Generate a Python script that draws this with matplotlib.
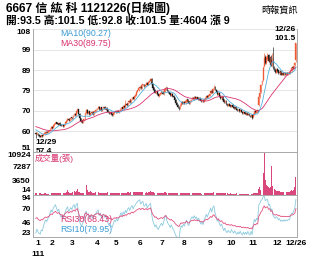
import numpy as np
import pandas as pd
import matplotlib
matplotlib.use("Agg")
import matplotlib.pyplot as plt

plt.rcParams['font.family'] = ['Liberation Sans', 'Noto Sans CJK TC', 'DejaVu Sans']

# ---------------- data ----------------
prior_closes = [64.0, 64.5, 63.8, 63.2, 63.9, 64.6, 65.0, 64.2, 63.5, 63.0,
                63.6, 64.1, 63.4, 62.8, 62.2, 62.9, 63.5, 62.8, 62.0, 61.5,
                62.2, 62.8, 62.4, 61.8, 61.2, 61.6, 60.8, 60.4, 61.0, 60.5]

closes = [59.0, 59.6,
          58.8, 58.2, 57.9, 58.5, 58.3, 59.0, 59.6, 60.1, 59.8, 60.3, 60.6, 61.5, 62.3,
          62.0, 63.2, 63.8, 64.5, 64.0, 63.6, 64.2, 63.5, 63.0, 63.4, 62.8, 63.5, 64.6, 65.4, 66.2, 65.5, 66.0, 66.8,
          66.5, 67.8, 68.5, 67.9, 69.8, 70.5, 68.6, 66.4, 65.2, 64.6, 65.5, 66.0, 68.9, 70.2, 69.0, 69.6, 68.3, 68.8, 69.5, 68.5, 69.2, 70.0, 70.4,
          71.2, 71.8, 70.6, 71.5, 70.2, 71.0, 71.6, 70.9, 71.3, 70.4, 69.5, 68.7, 69.2, 68.4, 68.0, 68.9, 69.6,
          69.3, 70.0, 69.5, 70.1, 70.8, 71.6, 71.0, 72.2, 71.8, 73.0, 72.6, 73.8, 74.5, 74.0, 75.4, 76.2, 75.6, 76.8, 77.5, 78.8, 79.6, 80.4,
          81.2, 80.5, 81.8, 82.3, 81.5, 82.0, 83.0, 82.2, 83.4, 84.0, 84.8, 82.6, 80.8, 79.6, 78.4, 79.0, 77.8, 77.0, 77.6, 78.2,
          78.6, 77.9, 78.8, 80.2, 80.8, 79.4, 78.5, 78.0, 77.2, 77.8, 76.8, 76.2, 75.0, 73.5, 72.6, 71.8, 71.0, 72.8, 74.0, 73.4, 74.2,
          73.6, 74.5, 75.2, 74.0, 73.5, 74.6, 75.4, 76.0, 75.6, 76.4, 75.8, 76.2, 75.5, 76.0, 75.2, 74.6, 75.0, 74.4, 75.3, 76.0, 76.8, 76.3, 77.2,
          78.0, 79.2, 78.5, 80.3, 81.2, 79.8, 78.9, 77.6, 78.2, 76.8, 76.0, 76.5, 75.2, 74.0, 74.6, 73.2, 72.5, 73.0, 72.4, 72.0,
          72.6, 71.8, 71.2, 71.6, 70.8, 70.2, 70.6, 69.9, 70.3, 69.5, 69.0, 69.4, 68.6, 68.9, 68.2, 68.6, 67.8, 67.4, 67.9, 66.8,
          68.6, 69.8, 69.2, 70.1, 69.7, 76.6, 78.5, 82.0, 83.8, 90.0, 94.5, 92.5, 94.5, 95.5, 93.0, 94.5, 91.5, 93.5, 90.0, 88.8, 88.0, 89.2,
          88.6, 87.5, 88.2, 86.9, 87.4, 86.8, 87.6, 87.0, 87.5, 87.2, 87.6, 87.5, 88.6, 89.9, 89.8, 91.0, 92.5, 101.5]

opens = [59.8, 59.2,
         59.3, 58.9, 58.4, 57.9, 58.6, 58.4, 59.1, 59.5, 60.2, 59.9, 60.2, 60.7, 61.6,
         62.6, 62.1, 63.3, 63.9, 64.6, 64.1, 63.5, 64.3, 63.6, 63.0, 63.5, 62.9, 63.6, 64.5, 65.3, 66.3, 65.4, 66.1,
         67.0, 66.6, 67.9, 68.6, 67.8, 69.7, 70.8, 68.5, 66.5, 65.3, 64.5, 65.6, 66.1, 69.0, 70.3, 68.9, 69.7, 68.2, 68.9, 69.6, 68.4, 69.3, 69.9,
         70.5, 71.3, 71.9, 70.5, 71.6, 70.1, 71.1, 71.7, 70.8, 71.4, 70.3, 69.6, 68.6, 69.3, 68.5, 67.9, 68.8,
         69.8, 69.2, 70.1, 69.4, 70.2, 70.7, 71.7, 70.9, 72.3, 71.7, 73.1, 72.5, 73.9, 74.6, 73.9, 75.3, 76.3, 75.5, 76.9, 77.4, 78.9, 79.5,
         80.5, 81.3, 80.4, 81.9, 82.4, 81.4, 82.1, 83.1, 82.1, 83.5, 83.9, 84.9, 82.5, 80.9, 79.7, 78.3, 79.1, 77.9, 76.9, 77.7,
         78.1, 78.7, 77.8, 78.9, 80.1, 80.9, 79.5, 78.6, 78.1, 77.1, 77.9, 76.9, 76.3, 75.1, 73.6, 72.7, 71.9, 70.9, 72.7, 74.1, 73.3,
         74.3, 73.5, 74.4, 75.3, 74.1, 73.4, 74.5, 75.3, 76.1, 75.5, 76.5, 75.7, 76.3, 75.4, 76.1, 75.3, 74.5, 75.1, 74.3, 75.2, 75.9, 76.9, 76.2,
         77.1, 78.1, 79.3, 78.4, 80.2, 81.3, 79.9, 79.0, 77.5, 78.3, 76.9, 75.9, 76.6, 75.3, 73.9, 74.7, 73.3, 72.4, 73.1, 72.5,
         71.9, 72.7, 71.9, 71.1, 71.7, 70.9, 70.1, 70.7, 69.8, 70.4, 69.6, 68.9, 69.5, 68.5, 69.0, 68.1, 68.7, 67.9, 67.3, 68.0,
         66.9, 68.5, 69.9, 69.1, 70.2, 72.5, 76.4, 78.6, 82.5, 84.5, 91.0, 95.0, 92.3, 94.2, 96.0, 92.8, 95.0, 91.0, 94.5, 90.2, 89.2, 87.8,
         89.5, 88.8, 87.4, 88.4, 86.8, 87.6, 86.7, 87.8, 86.9, 87.7, 87.0, 87.8, 87.4, 88.5, 90.2, 89.6, 91.2, 93.5]

highs = [60.2, 60.0,
         59.6, 59.2, 58.6, 58.8, 58.9, 59.3, 59.9, 60.4, 60.5, 60.6, 60.9, 61.8, 62.7,
         62.9, 63.5, 64.1, 64.8, 64.9, 64.4, 64.5, 64.6, 63.9, 63.7, 63.8, 63.8, 64.9, 65.7, 66.5, 66.6, 66.3, 67.1,
         67.3, 68.1, 68.8, 68.9, 70.1, 71.5, 71.0, 68.8, 66.8, 65.6, 65.8, 66.3, 69.2, 71.0, 70.6, 69.9, 70.0, 69.1, 69.8, 69.9, 69.5, 70.3, 70.7,
         71.5, 72.1, 72.2, 71.8, 71.9, 71.3, 71.9, 72.0, 71.6, 71.7, 70.6, 69.9, 69.5, 69.6, 68.8, 69.2, 69.9,
         70.1, 70.3, 70.4, 70.4, 71.1, 71.9, 71.9, 72.5, 72.6, 75.0, 73.4, 74.1, 74.8, 74.9, 75.7, 76.5, 76.6, 77.1, 77.8, 79.1, 79.9, 80.7,
         81.5, 81.6, 82.1, 82.6, 82.7, 82.3, 83.3, 83.4, 83.7, 84.3, 85.5, 85.2, 82.8, 81.2, 80.0, 79.3, 79.4, 78.2, 77.9, 78.5,
         78.9, 79.0, 79.1, 80.5, 81.5, 81.2, 79.8, 78.9, 78.4, 78.1, 78.2, 77.2, 76.6, 75.4, 73.9, 73.0, 72.2, 73.1, 74.3, 74.4, 74.5,
         74.6, 74.8, 75.5, 75.6, 74.4, 74.9, 75.7, 76.3, 76.4, 76.7, 76.8, 76.5, 76.6, 76.3, 76.4, 75.6, 75.3, 75.4, 75.6, 76.3, 77.1, 77.2, 77.5,
         78.3, 79.5, 79.6, 80.6, 82.0, 81.6, 80.2, 79.3, 78.5, 78.6, 77.2, 76.8, 76.9, 75.6, 74.9, 75.0, 73.6, 73.3, 73.4, 72.8,
         72.9, 73.0, 72.2, 71.9, 72.0, 71.2, 70.9, 71.0, 70.6, 70.7, 69.9, 69.7, 69.8, 69.2, 69.3, 68.9, 69.0, 68.2, 68.2, 68.3,
         68.9, 70.1, 70.2, 70.4, 70.5, 76.6, 79.2, 82.5, 84.5, 91.0, 96.8, 96.0, 95.5, 97.0, 96.5, 95.5, 96.0, 97.0, 99.7, 91.0, 89.8, 89.8,
         89.9, 89.2, 88.6, 88.7, 87.7, 88.0, 88.0, 88.2, 87.8, 88.0, 88.0, 88.2, 88.9, 90.2, 90.6, 91.3, 92.8, 101.5]

lows = [57.4, 58.8,
        58.4, 57.8, 57.6, 57.6, 57.9, 58.2, 58.8, 59.2, 59.5, 59.6, 59.9, 60.4, 61.3,
        61.7, 61.8, 63.0, 63.6, 63.7, 63.3, 63.2, 63.2, 62.7, 62.7, 62.5, 62.6, 63.3, 64.2, 65.0, 65.2, 65.1, 65.8,
        66.2, 66.3, 67.6, 67.6, 67.5, 69.4, 68.3, 66.1, 64.9, 64.3, 64.2, 65.3, 65.8, 68.7, 68.7, 68.6, 68.0, 68.0, 68.6, 68.2, 68.1, 69.0, 69.6,
        70.2, 71.0, 70.3, 70.2, 69.9, 69.8, 70.8, 70.6, 70.5, 70.1, 69.2, 68.4, 68.3, 68.1, 67.7, 67.6, 68.5,
        69.0, 68.9, 69.2, 69.1, 69.9, 70.4, 70.7, 70.6, 71.5, 71.4, 72.3, 72.2, 73.6, 73.7, 73.6, 75.0, 75.3, 75.2, 76.6, 77.1, 78.6, 79.2,
        80.2, 80.2, 80.1, 81.6, 81.2, 81.1, 81.8, 81.9, 81.8, 83.2, 83.6, 82.3, 80.5, 79.3, 78.1, 78.0, 77.5, 76.7, 76.6, 77.4,
        77.8, 77.6, 77.5, 78.6, 79.8, 79.1, 78.2, 77.7, 76.9, 76.8, 76.5, 75.9, 74.7, 73.2, 72.3, 71.5, 70.3, 70.6, 72.4, 73.0, 73.0,
        73.3, 73.2, 74.1, 73.7, 73.2, 73.1, 74.2, 75.0, 75.3, 75.2, 75.5, 75.4, 75.2, 75.1, 74.9, 74.3, 74.2, 74.1, 74.0, 74.9, 75.6, 76.0, 75.9,
        76.8, 77.8, 78.2, 78.1, 79.9, 79.5, 78.6, 77.3, 77.2, 76.5, 75.7, 75.6, 74.9, 73.7, 73.6, 72.9, 72.2, 72.1, 72.1, 71.7,
        71.6, 71.5, 70.9, 70.8, 70.5, 69.9, 69.8, 69.6, 69.5, 69.2, 68.7, 68.6, 68.3, 68.2, 67.9, 67.8, 67.5, 67.1, 67.0, 66.3,
        66.6, 68.2, 68.9, 68.8, 69.4, 72.2, 76.0, 78.3, 81.8, 83.8, 90.5, 92.0, 92.0, 93.9, 92.6, 92.5, 91.0, 90.7, 89.7, 88.5, 87.6, 87.5,
        88.3, 87.2, 87.1, 86.6, 86.5, 86.5, 86.4, 86.7, 86.6, 86.9, 86.7, 87.2, 87.1, 88.2, 89.5, 89.3, 90.9, 92.8]

volumes = [320, 280,
           250, 300, 380, 260, 220, 240, 310, 290, 250, 230, 270, 350, 420,
           380, 520, 460, 400, 330, 300, 350, 310, 280, 260, 300, 280, 450, 600, 1150, 700, 480, 520,
           450, 620, 800, 560, 900, 1500, 780, 600, 520, 480, 420, 500, 1800, 2400, 1100, 700, 550, 1000, 620, 480, 420, 520, 600,
           700, 560, 480, 420, 380, 350, 420, 380, 360, 400, 600, 650, 500, 420, 380, 350, 400,
           330, 380, 300, 340, 400, 420, 360, 450, 380, 520, 480, 560, 620, 500, 650, 700, 560, 600, 650, 720, 680, 760,
           700, 600, 650, 560, 500, 520, 600, 480, 620, 700, 900, 650, 700, 560, 480, 420, 500, 450, 380, 360,
           400, 380, 420, 600, 650, 480, 400, 380, 360, 340, 380, 360, 420, 460, 400, 380, 450, 500, 420, 360, 340,
           330, 360, 400, 360, 320, 500, 420, 380, 360, 340, 320, 300, 310, 290, 280, 300, 270, 260, 300, 320, 350, 330, 380,
           420, 500, 450, 520, 600, 480, 420, 380, 360, 400, 340, 320, 300, 380, 300, 280, 300, 270, 260, 280,
           260, 240, 250, 230, 220, 300, 240, 220, 210, 230, 200, 220, 210, 200, 190, 220, 210, 200, 230, 260,
           280, 320, 300, 350, 380, 1500, 1950, 1200, 1700, 5500, 10924, 3700, 2500, 2200, 1900, 1600, 2000, 7450, 2300, 1500, 1100, 1000,
           950, 900, 800, 750, 700, 680, 720, 650, 700, 620, 600, 650, 900, 1300, 1000, 1300, 2000, 4604]

holidays = ["2023-01-02", "2023-01-18", "2023-01-19", "2023-01-20", "2023-01-23",
            "2023-01-24", "2023-01-25", "2023-01-26", "2023-01-27", "2023-02-27",
            "2023-02-28", "2023-04-03", "2023-04-04", "2023-04-05", "2023-05-01",
            "2023-06-22", "2023-06-23", "2023-09-29", "2023-10-09", "2023-10-10"]

price_ticks = [51, 60.5, 70, 79.5, 89, 98.5, 108]
price_labels = ["51", "60", "70", "79", "89", "99", "108"]
vol_ticks = [14, 3650, 7287, 10924]
rsi_ticks = [23, 46.67, 70.33, 94]
rsi_labels = ["23", "46", "70", "94"]

# ---------------- derived ----------------
n = len(closes)
x = np.arange(n)
dates = pd.bdate_range("2022-12-29", "2023-12-26")
dates = dates[~dates.isin(pd.to_datetime(holidays))][:n]

full = pd.Series(prior_closes + closes)
np0 = len(prior_closes)
ma10 = full.rolling(10).mean().iloc[np0:].values
ma30 = full.rolling(30).mean().iloc[np0:].values

def rsi(s, k):
    d = s.diff()
    g = d.clip(lower=0).ewm(alpha=1.0 / k, adjust=False).mean()
    l = (-d.clip(upper=0)).ewm(alpha=1.0 / k, adjust=False).mean()
    return (100 * g / (g + l)).iloc[np0:].values

rsi10 = rsi(full, 10)
rsi30 = rsi(full, 30)

o = np.array(opens); c = np.array(closes)
h = np.array(highs); lo = np.array(lows)
up = c >= o

UP = "#ee5a36"
DN = "#1a1a1a"
BLUE = "#3b9bd4"
PINK = "#d8336f"
GRID = "#e2e2e2"
FRAME = "#a8a8a8"
TS = 6.0

W, H = 330, 264
fig = plt.figure(figsize=(3.3, 2.64), dpi=100)

def axrect(top, bottom, left=33, right=297):
    return [left / W, 1 - bottom / H, (right - left) / W, (bottom - top) / H]

ax1 = fig.add_axes(axrect(29.3, 151.5))
ax2 = fig.add_axes(axrect(151.5, 194.5))
ax3 = fig.add_axes(axrect(194.5, 237))

xlim = (-2.56, 239.0)
for a in (ax1, ax2, ax3):
    a.set_xlim(*xlim)
    a.set_facecolor("white")
    for sp in a.spines.values():
        sp.set_color(FRAME)
        sp.set_linewidth(0.7)
    a.tick_params(length=0, pad=1.5, labelsize=TS)

# price panel
ax1.set_ylim(51, 108)
ax1.set_yticks(price_ticks)
ax1.set_yticklabels(price_labels, fontweight="bold", fontsize=TS)
ax1.yaxis.grid(True, color=GRID, lw=0.6)
ax1.set_axisbelow(True)
ax1.spines["top"].set_visible(False)
ax1.set_xticks([])
ylabs = ax1.get_yticklabels()
ylabs[0].set_verticalalignment("bottom")
ylabs[-1].set_verticalalignment("top")

ax1.vlines(x, lo, h, colors=np.where(up, UP, DN), lw=0.45)
ax1.bar(x, np.maximum(np.abs(c - o), 0.12), bottom=np.minimum(o, c), width=0.8,
        color=np.where(up, UP, DN), edgecolor=np.where(up, UP, DN), lw=0.25)
ax1.plot(x, ma30, color=PINK, lw=0.6)
ax1.plot(x, ma10, color="#55b0dc", lw=0.6)

ax1.text((60 - 33) / 264, 1 - (33 - 29.3) / 122.2, "MA10(90.27)", transform=ax1.transAxes,
         color=BLUE, fontsize=6.3, va="center", ha="left")
ax1.text((60 - 33) / 264, 1 - (44 - 29.3) / 122.2, "MA30(89.75)", transform=ax1.transAxes,
         color=PINK, fontsize=6.3, va="center", ha="left")
ax1.text(0.995, 1.0, "12/26", transform=ax1.transAxes,
         fontsize=TS, fontweight="bold", ha="right", va="center")
ax1.text(0.995, 1 - (38.5 - 29.3) / 122.2, "101.5", transform=ax1.transAxes,
         fontsize=TS, fontweight="bold", ha="right", va="center")
ax1.text(x[0], 51 + (151.5 - 143) / 2.14, "12/29", fontsize=TS, fontweight="bold",
         ha="left", va="center")
ax1.text(x[0], 51 + (151.5 - 151.5) / 2.14, "57.4", fontsize=TS, fontweight="bold",
         ha="left", va="center", clip_on=True)

# volume panel
ax2.set_ylim(14, 11150)
ax2.set_yticks(vol_ticks)
ax2.set_yticklabels([str(v) for v in vol_ticks], fontweight="bold", fontsize=TS)
vlabs = ax2.get_yticklabels()
vlabs[0].set_verticalalignment("bottom")
vlabs[-1].set_verticalalignment("top")
ax2.set_xticks([])
ax2.bar(x, volumes, width=0.85, color="#d9477c", lw=0)
ax2.text(0.006, 1 - (158.5 - 151.5) / 43, "成交量(張)", transform=ax2.transAxes,
         color=PINK, fontsize=6.0, va="center", ha="left")

# RSI panel
ax3.set_ylim(23, 94)
ax3.set_yticks(rsi_ticks)
ax3.set_yticklabels(rsi_labels, fontweight="bold", fontsize=TS)
rlabs = ax3.get_yticklabels()
rlabs[0].set_verticalalignment("bottom")
rlabs[-1].set_verticalalignment("top")
ax3.plot(x, rsi10, color="#8ccadf", lw=0.6)
ax3.plot(x, rsi30, color="#e0507f", lw=0.6)
ax3.text((60 - 33) / 264, 1 - (219 - 194.5) / 42.5, "RSI30(68.43)", transform=ax3.transAxes,
         color=PINK, fontsize=6.3, va="center", ha="left")
ax3.text((60 - 33) / 264, 1 - (230 - 194.5) / 42.5, "RSI10(79.95)", transform=ax3.transAxes,
         color=BLUE, fontsize=6.3, va="center", ha="left")

month_pos = [i for i in range(1, n) if dates[i].month != dates[i - 1].month]
month_lab = [str(dates[i].month) for i in month_pos]
month_pos.append(n - 1)
month_lab.append(dates[n - 1].strftime("%m/%d").lstrip("0"))
ax3.set_xticks(month_pos)
ax3.set_xticklabels(month_lab, fontweight="bold", fontsize=TS)
ax3.tick_params(axis="x", pad=2.5)

fig.text(38 / W, 1 - 254 / H, "111", fontsize=TS, fontweight="bold", ha="center", va="center")

# header
fig.text(6 / W, 1 - 8 / H, "6667 信 紘 科 1121226(日線圖)", fontsize=8.6, fontweight="bold",
         ha="left", va="center")
fig.text(6 / W, 1 - 20 / H, "開:93.5 高:101.5 低:92.8 收:101.5 量:4604 漲 9", fontsize=7.7,
         fontweight="bold", ha="left", va="center")
fig.text(261 / W, 1 - 10 / H, "時報資訊", fontsize=6.6, ha="left", va="center")

fig.savefig("out.png", dpi=100, facecolor="white")
